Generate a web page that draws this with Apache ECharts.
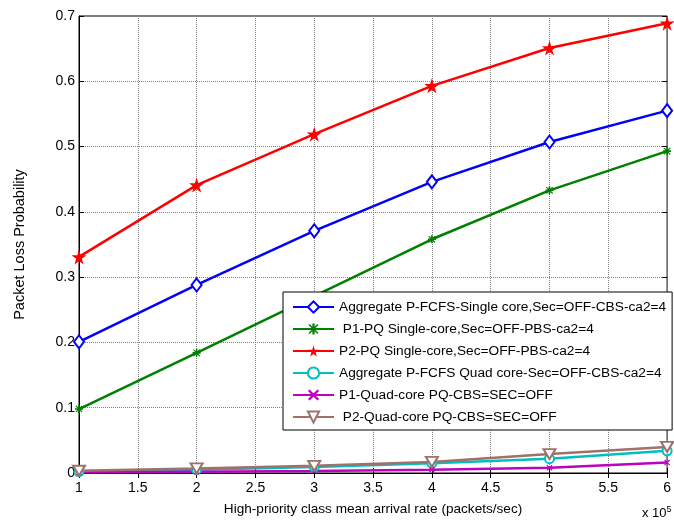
<!DOCTYPE html>
<html>
<head>
<meta charset="utf-8">
<script src="https://cdn.jsdelivr.net/npm/echarts@6/dist/echarts.min.js"></script>
<style>
  html, body { margin: 0; padding: 0; background: #fff; }
  #chart { width: 674px; height: 523px; }
</style>
</head>
<body>
<div id="chart"></div>
<script>
// arrival rate (x 10^5 packets/sec)
const rates = [1, 2, 3, 4, 5, 6]

const seriesNames = [
  'Aggregate P-FCFS-Single core,Sec=OFF-CBS-ca2=4',
  ' P1-PQ Single-core,Sec=OFF-PBS-ca2=4',
  'P2-PQ Single-core,Sec=OFF-PBS-ca2=4',
  'Aggregate P-FCFS Quad core-Sec=OFF-CBS-ca2=4',
  'P1-Quad-core PQ-CBS=SEC=OFF',
  ' P2-Quad-core PQ-CBS=SEC=OFF'
]

const aggSingle = [0.201, 0.288, 0.371, 0.446, 0.507, 0.555]
const p1Single = [0.098, 0.184, 0.271, 0.358, 0.433, 0.493]
const p2Single = [0.331, 0.441, 0.519, 0.593, 0.651, 0.689]
const aggQuad = [0.002, 0.005, 0.009, 0.015, 0.022, 0.034]
const p1Quad = [0.001, 0.002, 0.003, 0.005, 0.008, 0.016]
const p2Quad = [0.0035, 0.007, 0.011, 0.017, 0.029, 0.040]

const chart = echarts.init(document.getElementById('chart'))

const starPath = 'path://M50,0 L61,35 L98,35 L68,57 L79,91 L50,70 L21,91 L32,57 L2,35 L39,35 Z'
const asteriskPath = 'path://M4,0 H6 V10 H4 Z M0,4 H10 V6 H0 Z M1.5,0.5 L9.5,8.5 L8.5,9.5 L0.5,1.5 Z M8.5,0.5 L9.5,1.5 L1.5,9.5 L0.5,8.5 Z'
const crossPath = 'path://M0,1.5 L1.5,0 L10,8.5 L8.5,10 Z M8.5,0 L10,1.5 L1.5,10 L0,8.5 Z'

const pairs = vals => vals.map((v, i) => [rates[i], v])

const mk = (name, data, color, symbol, size, extra) => Object.assign({
  name: name,
  type: 'line',
  data: pairs(data),
  symbol: symbol,
  symbolSize: size,
  showAllSymbol: true,
  lineStyle: { color: color, width: 2.5 },
  itemStyle: { color: color, borderColor: color, borderWidth: 2 },
  emphasis: { disabled: true },
  z: 3
}, extra || {})

const series = [
  mk(seriesNames[0], aggSingle, '#0000ff', 'emptyDiamond', [10, 13]),
  mk(seriesNames[1], p1Single, '#008000', asteriskPath, 8, { itemStyle: { color: '#008000', borderWidth: 0 } }),
  mk(seriesNames[2], p2Single, '#ff0000', starPath, 15, { itemStyle: { color: '#ff0000', borderWidth: 0 } }),
  mk(seriesNames[3], aggQuad, '#00bfbf', 'emptyCircle', 9),
  mk(seriesNames[4], p1Quad, '#bf00bf', crossPath, 6, { itemStyle: { color: '#bf00bf', borderWidth: 0 } }),
  mk(seriesNames[5], p2Quad, '#a0706a', 'emptyTriangle', [12, 10], { symbolRotate: 180 })
]

const labelFont = { fontFamily: 'Liberation Sans', fontSize: 14, color: '#000' }

const option = {
  animation: false,
  backgroundColor: '#fff',
  grid: {
    left: 79, right: 3, top: 16, bottom: 50,
    show: true, borderColor: '#000', borderWidth: 1, backgroundColor: '#fff'
  },
  legend: {
    orient: 'vertical',
    left: 283,
    top: 292,
    padding: [8, 6, 6, 9],
    itemGap: 8,
    itemWidth: 41,
    itemHeight: 14,
    backgroundColor: '#fff',
    borderColor: '#000',
    borderWidth: 1,
    textStyle: { fontFamily: 'Liberation Sans', fontSize: 13.7, color: '#000' },
    data: seriesNames
  },
  xAxis: [{
    type: 'value',
    min: 1, max: 6, interval: 0.5,
    name: 'High-priority class mean arrival rate (packets/sec)',
    nameLocation: 'middle',
    nameGap: 29,
    nameTextStyle: { fontFamily: 'Liberation Sans', fontSize: 13.6, color: '#000' },
    axisLine: { lineStyle: { color: '#000' } },
    axisTick: { inside: true, length: 5, lineStyle: { color: '#000' } },
    axisLabel: Object.assign({ margin: 8 }, labelFont),
    splitLine: { show: true, lineStyle: { color: '#808080', type: 'dotted', width: 1 } }
  }, {
    type: 'value',
    position: 'top',
    min: 1, max: 6, interval: 0.5,
    axisLine: { show: false },
    axisTick: { inside: true, length: 5, lineStyle: { color: '#000' } },
    axisLabel: { show: false },
    splitLine: { show: false }
  }],
  yAxis: [{
    type: 'value',
    min: 0, max: 0.7, interval: 0.1,
    name: 'Packet Loss Probability',
    nameLocation: 'middle',
    nameGap: 52,
    nameTextStyle: { fontFamily: 'Liberation Sans', fontSize: 14.5, color: '#000' },
    axisLine: { lineStyle: { color: '#000' } },
    axisTick: { inside: true, length: 5, lineStyle: { color: '#000' } },
    axisLabel: Object.assign({ margin: 4, formatter: v => String(+v.toFixed(1)) }, labelFont),
    splitLine: { show: true, lineStyle: { color: '#808080', type: 'dotted', width: 1 } }
  }, {
    type: 'value',
    position: 'right',
    min: 0, max: 0.7, interval: 0.1,
    axisLine: { show: false },
    axisTick: { inside: true, length: 5, lineStyle: { color: '#000' } },
    axisLabel: { show: false },
    splitLine: { show: false }
  }],
  graphic: [{
    type: 'text',
    left: 642,
    top: 505,
    style: {
      text: 'x 10{s|5}',
      rich: { s: { fontSize: 9, verticalAlign: 'top', padding: [0, 0, 8, 0] } },
      font: '13px Liberation Sans',
      fill: '#000'
    }
  }],
  series: series
}

chart.setOption(option)
</script>
</body>
</html>
